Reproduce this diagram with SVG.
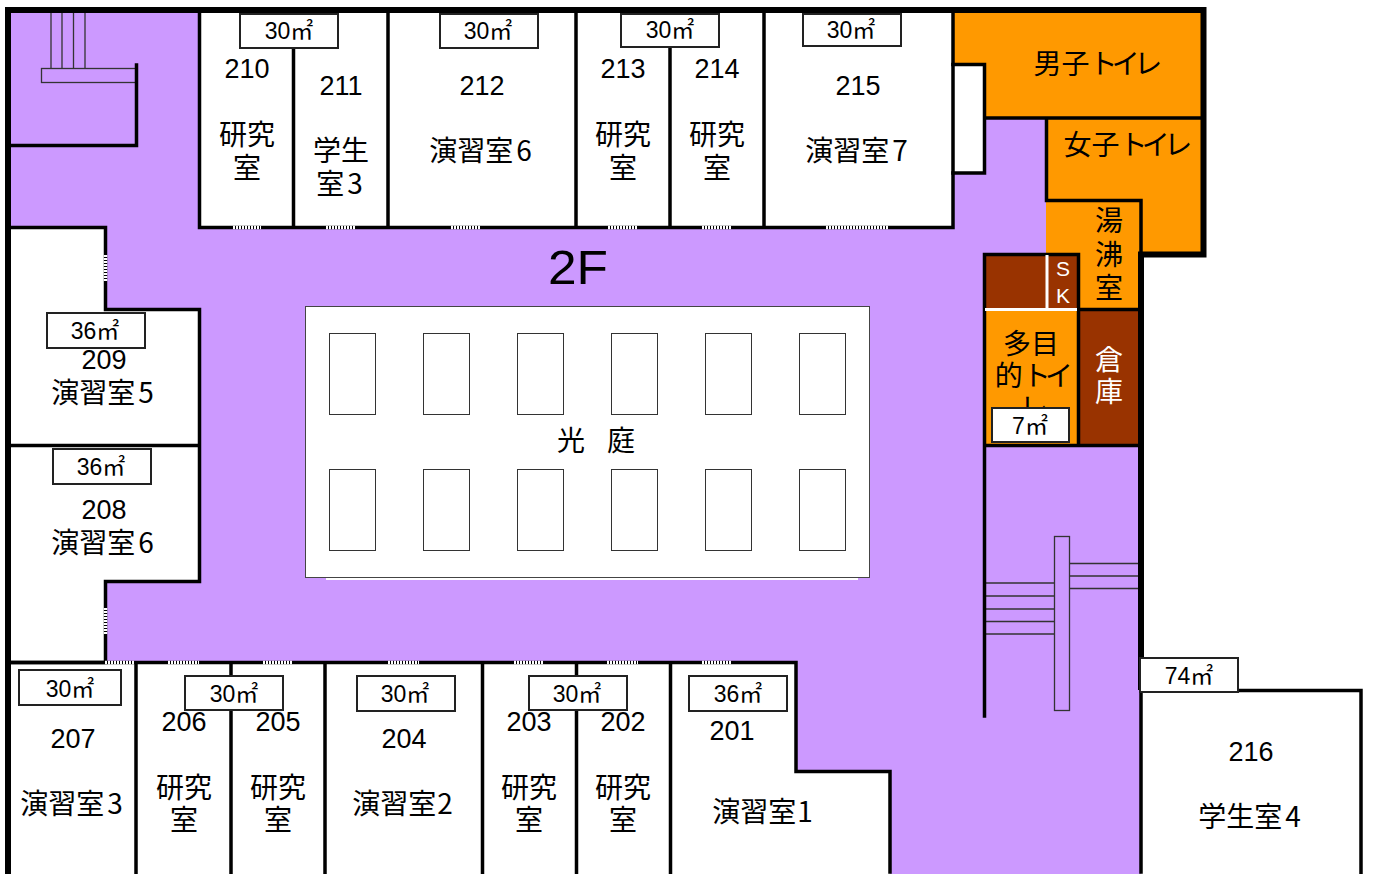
<svg xmlns="http://www.w3.org/2000/svg" width="1373" height="874" viewBox="0 0 1373 874">
<style>
text{font-family:"Liberation Sans","Noto Sans CJK JP",sans-serif;font-size:27px;fill:#000;text-anchor:middle}
.j{font-family:"Noto Sans CJK JP",sans-serif;font-size:28px}
.a{font-size:23px}
.k{letter-spacing:-5.700px}
.n{letter-spacing:3px}
.w{fill:#fff}
.wall{fill:none;stroke:#000;stroke-width:3.5;stroke-linecap:square}
.thick{fill:none;stroke:#000;stroke-width:6}
.thin{fill:none;stroke:#333;stroke-width:1.3}
.door{fill:none;stroke:#fff;stroke-width:3.5;stroke-dasharray:2 1}
.box{fill:#fff;stroke:#222;stroke-width:2}
.pane{fill:#fff;stroke:#333;stroke-width:1}
</style>
<rect id="bg" width="1373" height="874" fill="#fff"/>
<rect id="floor" x="8" y="10" width="1133" height="864" fill="#c9f"/>
<g id="rooms-white">
<rect x="200" y="12" width="753" height="215" fill="#fff"/>
<rect x="953" y="64" width="31" height="109" fill="#fff"/>
<path d="M8 227H105V309H200V581H105V662H8Z" fill="#fff"/>
<path d="M8 662H796V771H890V874H8Z" fill="#fff"/>
<rect x="1141" y="690" width="220" height="184" fill="#fff"/>
</g>
<g id="rooms-colour">
<path d="M953 12H1204V254H1140V308H1046V118H984V64H953Z" fill="#f90"/>
<rect x="984" y="254" width="94" height="55" fill="#930"/>
<rect x="984" y="309" width="94" height="136" fill="#f90"/>
<rect x="1078" y="309" width="62" height="136" fill="#930"/>
</g>
<g id="court">
<rect x="305.500" y="306.500" width="564" height="271" fill="#fff" stroke="#444" stroke-width="1"/>
<path d="M326 579H858" stroke="#fff" stroke-width="2"/>
<rect class="pane" x="329.500" y="333.500" width="46" height="81"/><rect class="pane" x="423.500" y="333.500" width="46" height="81"/><rect class="pane" x="517.500" y="333.500" width="46" height="81"/><rect class="pane" x="611.500" y="333.500" width="46" height="81"/><rect class="pane" x="705.500" y="333.500" width="46" height="81"/><rect class="pane" x="799.500" y="333.500" width="46" height="81"/>
<rect class="pane" x="329.500" y="469.500" width="46" height="81"/><rect class="pane" x="423.500" y="469.500" width="46" height="81"/><rect class="pane" x="517.500" y="469.500" width="46" height="81"/><rect class="pane" x="611.500" y="469.500" width="46" height="81"/><rect class="pane" x="705.500" y="469.500" width="46" height="81"/><rect class="pane" x="799.500" y="469.500" width="46" height="81"/>
</g>
<g id="stairs">
<path class="thin" d="M51 13V68M62 13V68M73.500 13V68M85 13V68"/>
<rect class="thin" x="41.500" y="68.500" width="95" height="14"/>
<rect class="thin" x="1054.500" y="536.500" width="15" height="174"/>
<path class="thin" d="M985 583H1054M985 596H1054M985 609H1054M985 621.500H1054M985 634H1054M1069 563.500H1138M1069 576H1138M1069 588.500H1138"/>
</g>
<g id="walls">
<path class="wall" d="M136.500 65V145.500H10"/>
<path class="wall" d="M199.500 12V227.500H953M293.500 12V227.500M388 12V227.500M576 12V227.500M670 12V227.500M764 12V227.500M953 12V227"/>
<path class="wall" d="M953 64.500H984.500V173H953M984.500 118H1202M1046.500 118V200.500H1141V253"/>
<path class="wall" d="M9 227.500H105.500V309.500H199.500V581.500H105.500V662.500H9M9 445.500H199.500"/>
<path class="wall" d="M9 662.500H796V771.500H890V872M136 662.500V874M231 662.500V874M325 662.500V874M482.500 662.500V874M576.500 662.500V874M670.500 662.500V874"/>
<path class="wall" d="M984.500 254.500H1078.500V445M984.500 254.500V716M984.500 445.500H1140M1078.500 309.500H1140"/>
<path class="wall" d="M1141 690V872M1141 690.500H1361M1361 690.500V874"/>
<path class="thick" d="M8 874V10H1203.500V254.500H1141V690"/>
<path d="M1047 255V308M985 309.500H1077" stroke="#fff" stroke-width="3" fill="none"/>
</g>
<g id="doors">
<path class="door" d="M233 227.500H261M326 227.500H356M451 227.500H480M608 227.500H638M702 227.500H731M826 227.500H888M105 662.500H135M168 662.500H199M263 662.500H293M388 662.500H419M514 662.500H544M607 662.500H638M702 662.500H732"/>
<path class="door" d="M105.500 255V281M105.500 608V634"/>
</g>
<g id="labels">
<text class="j" x="1095" y="74">男子<tspan class="k">トイレ</tspan></text>
<text class="j" x="1125" y="155">女子<tspan class="k">トイレ</tspan></text>
<text class="j" x="1109" y="231">湯</text><text class="j" x="1109" y="265">沸</text><text class="j" x="1109" y="298">室</text>
<text x="1063" y="276" style="font-size:21px;fill:#fff">S</text><text x="1063" y="303" style="font-size:21px;fill:#fff">K</text>
<text class="j" x="1031" y="354">多目</text><text class="j" x="1031" y="386">的<tspan class="k">トイ</tspan></text><text class="j k" x="1031" y="418">レ</text>
<text class="j w" x="1109" y="370">倉</text><text class="j w" x="1109" y="402">庫</text>
<text x="578" y="284" style="font-size:48px" textLength="60" lengthAdjust="spacingAndGlyphs">2F</text>
<text class="j" x="571" y="451">光</text><text class="j" x="621" y="451">庭</text>
<text x="247" y="78">210</text><text class="j" x="247" y="145">研究</text><text class="j" x="247" y="178">室</text>
<text x="341" y="95">211</text><text class="j" x="341" y="161">学生</text><text class="j" x="341" y="194">室<tspan class="n" dx="3">3</tspan></text>
<text x="482" y="95">212</text><text class="j" x="482" y="161">演習室<tspan class="n" dx="3">6</tspan></text>
<text x="623" y="78">213</text><text class="j" x="623" y="145">研究</text><text class="j" x="623" y="178">室</text>
<text x="717" y="78">214</text><text class="j" x="717" y="145">研究</text><text class="j" x="717" y="178">室</text>
<text x="858" y="95">215</text><text class="j" x="858" y="161">演習室<tspan class="n" dx="3">7</tspan></text>
<text x="104" y="369">209</text><text class="j" x="104" y="403">演習室<tspan class="n" dx="3">5</tspan></text>
<text x="104" y="519">208</text><text class="j" x="104" y="553">演習室<tspan class="n" dx="3">6</tspan></text>
<text x="73" y="748">207</text><text class="j" x="73" y="814">演習室<tspan class="n" dx="3">3</tspan></text>
<text x="184" y="731">206</text><text class="j" x="184" y="798">研究</text><text class="j" x="184" y="830">室</text>
<text x="278" y="731">205</text><text class="j" x="278" y="798">研究</text><text class="j" x="278" y="830">室</text>
<text x="404" y="748">204</text><text class="j" x="404" y="814">演習室<tspan class="n" dx="1">2</tspan></text>
<text x="529" y="731">203</text><text class="j" x="529" y="798">研究</text><text class="j" x="529" y="830">室</text>
<text x="623" y="731">202</text><text class="j" x="623" y="798">研究</text><text class="j" x="623" y="830">室</text>
<text x="732" y="740">201</text><text class="j" x="764" y="822">演習室<tspan class="n" dx="1">1</tspan></text>
<text x="1251" y="761">216</text><text class="j" x="1251" y="827">学生室<tspan class="n" dx="3">4</tspan></text>
</g>
<g id="areas">
<rect class="box" x="240" y="14" width="98" height="34"/><text class="a" x="289" y="39">30㎡</text>
<rect class="box" x="440" y="14" width="98" height="34"/><text class="a" x="488" y="39">30㎡</text>
<rect class="box" x="621" y="14" width="98" height="33"/><text class="a" x="670" y="38">30㎡</text>
<rect class="box" x="803" y="14" width="98" height="32"/><text class="a" x="851" y="38">30㎡</text>
<rect class="box" x="47" y="313" width="98" height="35"/><text class="a" x="95" y="339">36㎡</text>
<rect class="box" x="53" y="449" width="98" height="35"/><text class="a" x="101" y="475">36㎡</text>
<rect class="box" x="19" y="670" width="102" height="35"/><text class="a" x="70" y="697">30㎡</text>
<rect class="box" x="185" y="676" width="98" height="34"/><text class="a" x="234" y="702">30㎡</text>
<rect class="box" x="357" y="676" width="98" height="35"/><text class="a" x="405" y="702">30㎡</text>
<rect class="box" x="529" y="676" width="98" height="34"/><text class="a" x="577" y="702">30㎡</text>
<rect class="box" x="689" y="676" width="98" height="35"/><text class="a" x="738" y="702">36㎡</text>
<rect class="box" x="992" y="408" width="77" height="34"/><text class="a" x="1030" y="434">7㎡</text>
<rect class="box" x="1140" y="658" width="98" height="34"/><text class="a" x="1189" y="684">74㎡</text>
</g>
</svg>
